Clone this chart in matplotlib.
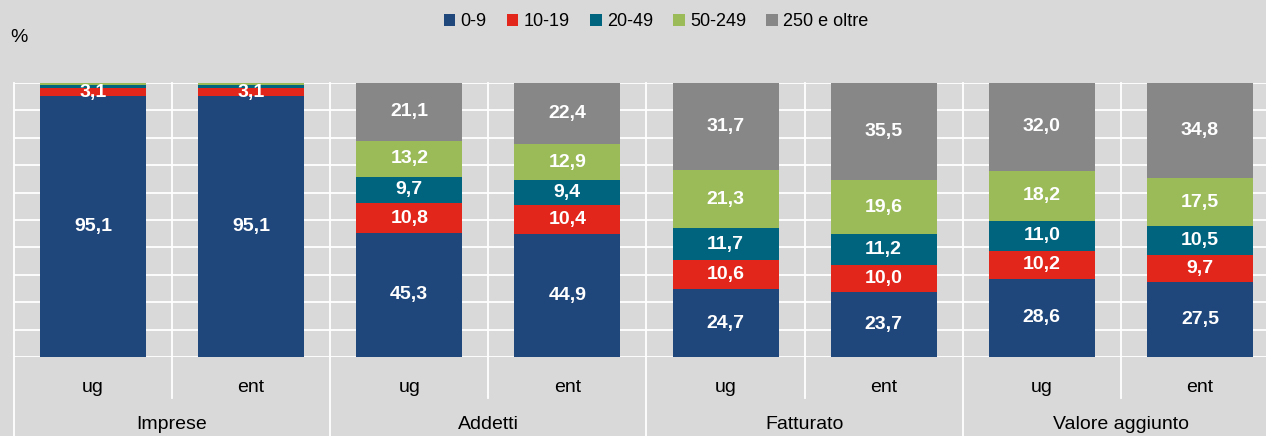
import numpy as np
import matplotlib.pyplot as plt
from matplotlib.patches import Patch
import matplotlib.transforms as mtransforms

plt.rcParams['font.family'] = ['Liberation Sans Narrow', 'Liberation Sans', 'DejaVu Sans']

groups = ['Imprese', 'Addetti', 'Fatturato', 'Valore aggiunto']
subs = ['ug', 'ent'] * 4
classes = ['0-9', '10-19', '20-49', '50-249', '250 e oltre']
colors = ['#20477b', '#e3261b', '#00647f', '#9bbb59', '#878787']

v0_9 = [95.1, 95.1, 45.3, 44.9, 24.7, 23.7, 28.6, 27.5]
v10_19 = [3.1, 3.1, 10.8, 10.4, 10.6, 10.0, 10.2, 9.7]
v20_49 = [1.2, 1.2, 9.7, 9.4, 11.7, 11.2, 11.0, 10.5]
v50_249 = [0.5, 0.5, 13.2, 12.9, 21.3, 19.6, 18.2, 17.5]
v250 = [0.1, 0.1, 21.1, 22.4, 31.7, 35.5, 32.0, 34.8]
series = [v0_9, v10_19, v20_49, v50_249, v250]

bg = '#d9d9d9'
fig = plt.figure(figsize=(12.66, 4.36), dpi=100, facecolor=bg)
W, H = 1266, 436
ax = fig.add_axes([14 / W, 1 - 357 / H, 1265 / W, 274 / H], facecolor=bg)

x = np.arange(8)
bottom = np.zeros(8)
for vals, c in zip(series, colors):
    vals = np.array(vals)
    ax.bar(x, vals, 0.67, bottom=bottom, color=c, zorder=3)
    for xi, b, v in zip(x, bottom, vals):
        if v >= 3:
            ax.text(xi, b + v / 2, f'{v:.1f}'.replace('.', ','), ha='center', va='center',
                    color='white', fontsize=14, fontweight='bold', zorder=4)
    bottom += vals

ax.set_xlim(-0.5, 7.5)
ax.set_ylim(0, 100)
ax.set_yticks(np.arange(0, 101, 10))
ax.yaxis.grid(True, color='white', lw=1.3, zorder=1)
ax.tick_params(left=False, bottom=False, labelleft=False, labelbottom=False)
for s in ax.spines.values():
    s.set_visible(False)

trans = mtransforms.blended_transform_factory(ax.transData, ax.transAxes)
# vertical separators
for k in range(9):
    xb = k - 0.5
    ylow = -0.29 if k % 2 == 0 else -0.15
    ax.plot([xb, xb], [ylow, 1], color='white', lw=1.3, transform=trans, clip_on=False, zorder=2)

for xi, s in zip(x, subs):
    ax.text(xi, -0.11, s, transform=trans, ha='center', va='center', fontsize=14)
for gi, g in enumerate(groups):
    ax.text(2 * gi + 0.5, -0.215, g, transform=trans, ha='center', va='top', fontsize=14)

fig.text(10 / W, 1 - 38 / H, '%', ha='left', va='center', fontsize=14)

handles = [Patch(facecolor=c, edgecolor='none') for c in colors]
fig.legend(handles, classes, loc='center', bbox_to_anchor=(656 / W, 1 - 22 / H), ncol=5,
           frameon=False, fontsize=13, handlelength=0.65, handleheight=0.65,
           handletextpad=0.3, columnspacing=1.1)

fig.savefig('out.png', dpi=100, facecolor=bg)
